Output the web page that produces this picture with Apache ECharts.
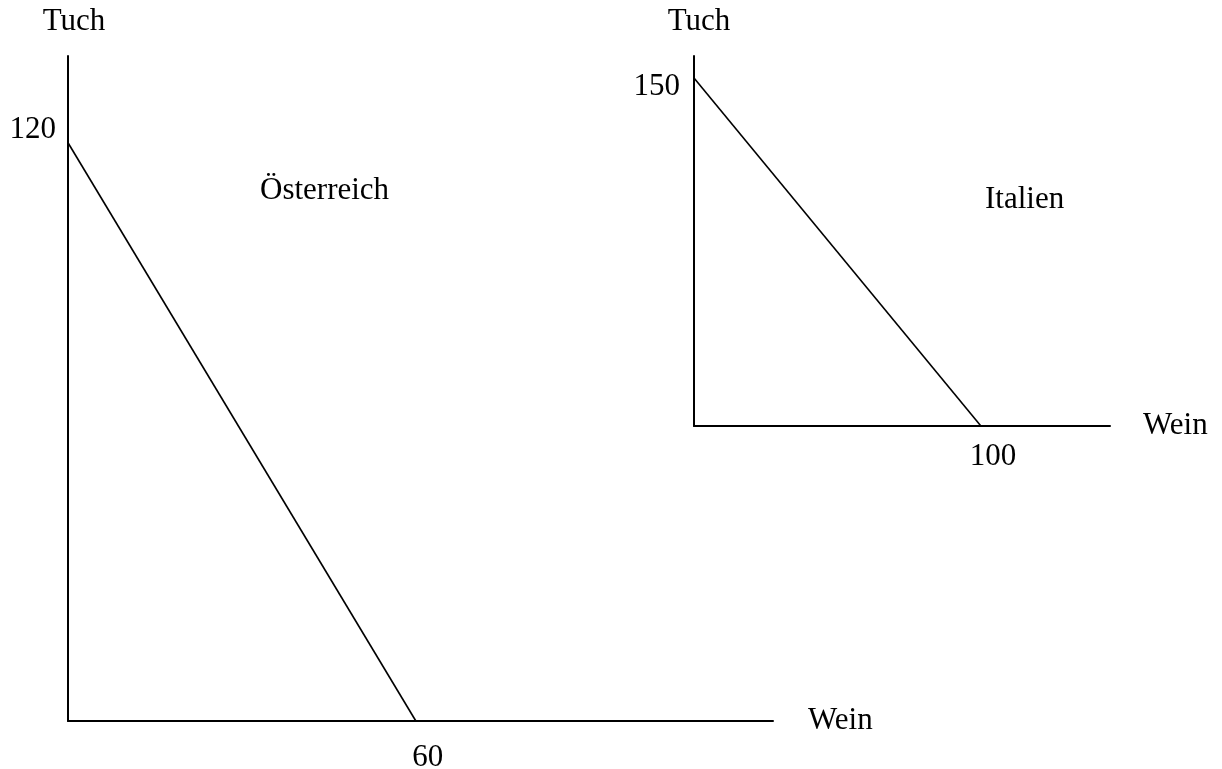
<!DOCTYPE html>
<html>
<head>
<meta charset="utf-8">
<script src="https://cdn.jsdelivr.net/npm/echarts@6/dist/echarts.min.js"></script>
<style>
html,body{margin:0;padding:0;background:#fff;}
#c{width:1222px;height:769px;}
</style>
</head>
<body>
<div id="c"></div>
<script>
// Data
const countries = ['Österreich', 'Italien'];
const tuchMax = [120, 150];     // Tuch at Wein = 0
const weinMax = [60, 100];      // Wein at Tuch = 0
const yTicks = [[120], [150]];
const xTicks = [[60], [100]];
const axisNames = { x: 'Wein', y: 'Tuch' };

const FONT = "'Liberation Serif', 'Times New Roman', serif";
const FS = 31;
const chart = echarts.init(document.getElementById('c'));

const grids = [
  { left: 68, top: 56, width: 705, height: 665, outerBoundsMode: 'none', containLabel: false },
  { left: 694, top: 56, width: 416, height: 370, outerBoundsMode: 'none', containLabel: false }
];
const xMax = [121.6, 145];
const yMax = [138, 159.5];

const xLabelCfg = [
  { margin: 21, padding: [0, 0, 0, 24] },
  { margin: 15, padding: [0, 0, 0, 24] }
];
const yLabelCfg = [
  { margin: 12, verticalAlign: 'bottom', lineHeight: 26 },
  { margin: 14, verticalAlign: 'top', lineHeight: 18 }
];
const xNameGap = [35, 33];

const option = {
  backgroundColor: '#fff',
  animation: false,
  grid: grids,
  title: [
    { text: countries[0], left: 260, top: 175, padding: 0, textStyle: { fontFamily: FONT, fontSize: FS, fontWeight: 'normal', color: '#000' } },
    { text: countries[1], left: 985, top: 184, padding: 0, textStyle: { fontFamily: FONT, fontSize: FS, fontWeight: 'normal', color: '#000' } }
  ],
  xAxis: [0, 1].map(i => ({
    type: 'value', gridIndex: i, min: 0, max: xMax[i],
    name: axisNames.x, nameLocation: 'end', nameGap: xNameGap[i],
    nameTextStyle: { fontFamily: FONT, fontSize: FS, color: '#000', align: 'left', verticalAlign: 'middle' },
    axisLine: { show: true, lineStyle: { color: '#000', width: 2 } },
    axisTick: { show: false },
    splitLine: { show: false },
    axisLabel: Object.assign({ customValues: xTicks[i], fontFamily: FONT, fontSize: FS, color: '#000' }, xLabelCfg[i])
  })),
  yAxis: [0, 1].map(i => ({
    type: 'value', gridIndex: i, min: 0, max: yMax[i],
    name: axisNames.y, nameLocation: 'end', nameGap: 19,
    nameTextStyle: { fontFamily: FONT, fontSize: FS, color: '#000', align: 'center', padding: i === 1 ? [0, 0, 0, 10] : [0, 0, 0, 12] },
    axisLine: { show: true, lineStyle: { color: '#000', width: 2 } },
    axisTick: { show: false },
    splitLine: { show: false },
    axisLabel: Object.assign({ customValues: yTicks[i], fontFamily: FONT, fontSize: FS, color: '#000' }, yLabelCfg[i])
  })),
  series: [0, 1].map(i => ({
    type: 'line', xAxisIndex: i, yAxisIndex: i,
    data: [[0, tuchMax[i]], [weinMax[i], 0]],
    symbol: 'none',
    lineStyle: { color: '#000', width: 1.6 }
  }))
};
chart.setOption(option);
</script>
</body>
</html>
